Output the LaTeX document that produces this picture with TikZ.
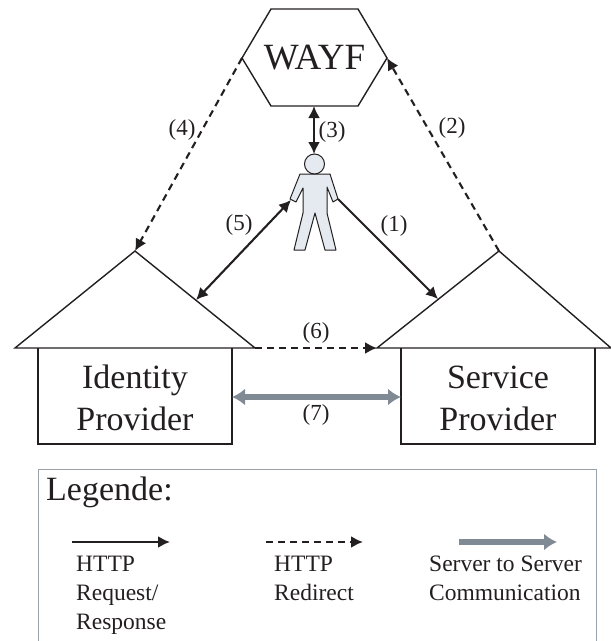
\documentclass[tikz,border=0pt]{standalone}
\usepackage{fontspec}
\setmainfont{Liberation Serif}
\usetikzlibrary{arrows.meta}
\definecolor{ink}{HTML}{231F20}
\definecolor{srv}{HTML}{808A94}
\definecolor{body}{HTML}{E4EAF0}
\tikzset{
  x=1pt,y=-1pt,
  shapeline/.style={draw=ink,line width=1.4pt,line join=miter},
  req/.style={draw=ink,line width=2.1pt,-{Latex[length=12pt,width=12pt]}},
  reqboth/.style={draw=ink,line width=2.1pt,{Latex[length=12pt,width=12pt]}-{Latex[length=12pt,width=12pt]}},
  redir/.style={draw=ink,line width=2.1pt,dash pattern=on 7pt off 5pt,-{Latex[length=12pt,width=12pt]}},
  srvboth/.style={draw=srv,line width=5.5pt,{Latex[length=13pt,width=17pt]}-{Latex[length=13pt,width=17pt]}},
  srvone/.style={draw=srv,line width=5.5pt,-{Latex[length=13pt,width=17pt]}},
  big/.style={text=ink,inner sep=0pt,font=\fontsize{34}{42}\selectfont,align=center},
  lab/.style={text=ink,inner sep=0pt,font=\fontsize{23}{25}\selectfont},
  legtxt/.style={text=ink,inner sep=0pt,anchor=north west,align=left,font=\fontsize{23.5}{29}\selectfont},
}
\begin{document}
\begin{tikzpicture}
\useasboundingbox (0,0) rectangle (611,641);
% WAYF
\coordinate (hexL) at (242,58);
\coordinate (hexR) at (387,58);
\coordinate (hexB) at (314,106);
\draw[shapeline] (271,9) -- (358,9) -- (hexR) -- (358,106) -- (271,106) -- (hexL) -- cycle;
\node[big,font=\fontsize{37}{42}\selectfont] (wayf) at (314.5,58) {WAYF};
% person
\draw[draw=ink,line width=1pt,fill=body,line join=round]
  (300,174) -- (330,174) -- (338,199) -- (333,202) -- (327,187) -- (327,213) -- (336,250) -- (325,250) -- (315,213) -- (305,250) -- (294,250) -- (303,213) -- (303,188) -- (296,202) -- (290,199) -- cycle;
\draw[draw=ink,line width=1pt,fill=body] (314.5,164) circle (10);
\coordinate (head) at (314,154);
\coordinate (handL) at (291,200);
\coordinate (handR) at (338,199);
% Identity provider
\coordinate (idA) at (135,251);
\coordinate (idR) at (255,348);
\coordinate (idS) at (196,300);
\draw[shapeline] (15,348) -- (idA) -- (idR) -- cycle;
\draw[shapeline] (38,348) -- (38,444) -- (232,444) -- (232,348);
\coordinate (idE) at (232,397);
\node[big] (idp) at (135,398) {Identity\\Provider};
% Service provider
\coordinate (spA) at (499,251);
\coordinate (spL) at (377,348);
\coordinate (spS) at (438,299);
\draw[shapeline] (spL) -- (spA) -- (611,348) -- cycle;
\draw[shapeline] (401,348) -- (401,444) -- (595,444) -- (595,348);
\coordinate (spW) at (401,397);
\node[big] (spn) at (498,398) {Service\\Provider};
% connectors
\draw[redir] (hexL) -- (idA);
\draw[redir] (spA) -- (hexR);
\draw[reqboth] (hexB) -- (head);
\draw[reqboth] (handL) -- (idS);
\draw[req] (handR) -- (spS);
\draw[redir] (idR) -- (spL);
\draw[srvboth] (idE) -- (spW);
% labels
\node[lab] (l4) at (182,130) {(4)};
\node[lab] (l2) at (452,128) {(2)};
\node[lab] (l3) at (332,132) {(3)};
\node[lab] (l5) at (239,225) {(5)};
\node[lab] (l1) at (394,226) {(1)};
\node[lab] (l6) at (316,333) {(6)};
\node[lab] (l7) at (316,415) {(7)};
% legend
\draw[draw=srv!80,line width=1pt] (38,641) -- (38,469) -- (596,469) -- (596,641);
\node[text=ink,inner sep=0pt,anchor=base west,font=\fontsize{34}{36}\selectfont] (leg) at (46,500) {Legende:};
\coordinate (a1) at (72,542); \coordinate (b1) at (170,542);
\coordinate (a2) at (266,542); \coordinate (b2) at (363,542);
\coordinate (a3) at (459,542); \coordinate (b3) at (557,542);
\draw[req] (a1) -- (b1);
\draw[redir] (a2) -- (b2);
\draw[srvone] (a3) -- (b3);
\node[legtxt] (t1) at (76,556) {HTTP\\Request/\\Response};
\node[legtxt] (t2) at (274,556) {HTTP\\Redirect};
\node[legtxt] (t3) at (429,556) {Server to Server\\Communication};
\end{tikzpicture}
\end{document}
